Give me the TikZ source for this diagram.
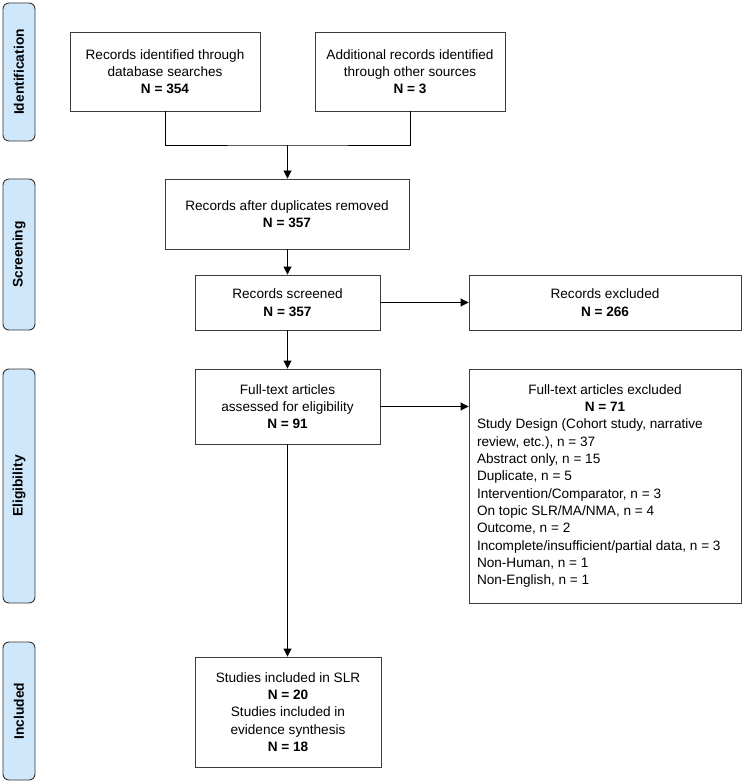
\documentclass[tikz,border=0pt]{standalone}
\usepackage{fontspec}
\setmainfont{Liberation Sans}
\usetikzlibrary{arrows.meta}
\definecolor{sidefill}{RGB}{207,231,250}
\definecolor{boxline}{RGB}{60,60,60}
\begin{document}
\begin{tikzpicture}[x=1pt,y=-1pt,
  box/.style={draw=boxline, line width=0.9pt, align=center, inner sep=0pt, font=\fontsize{13.6}{17.3}\selectfont},
  side/.style={draw=black!80, fill=sidefill, rounded corners=6pt, line width=0.9pt, inner sep=0pt, rotate=90, minimum height=32pt, font=\fontsize{13.8}{16}\selectfont\bfseries},
  conn/.style={line width=0.9pt},
  arr/.style={conn, -{Triangle[length=8pt,width=8pt]}}]
\useasboundingbox (0,0) rectangle (744,783);

% phase labels
\node[side, minimum width=138pt] (ident) at (19,72) {Identification};
\node[side, minimum width=151pt] (screen) at (19,254.5) {Screening};
\node[side, minimum width=234pt] (elig) at (19,486) {Eligibility};
\node[side, minimum width=138pt] (incl) at (19,711) {Included};

% boxes
\node[box, minimum width=190pt, minimum height=79pt] (b1) at (165,71.5)
  {Records identified through\\database searches\\\textbf{N = 354}};
\node[box, minimum width=190pt, minimum height=79pt] (b2) at (410,71.5)
  {Additional records identified\\through other sources\\\textbf{N = 3}};
\node[box, minimum width=244pt, minimum height=70pt] (b3) at (287,214)
  {Records after duplicates removed\\\textbf{N = 357}};
\node[box, minimum width=185pt, minimum height=55pt] (b4) at (287.5,302.5)
  {Records screened\\\textbf{N = 357}};
\node[box, minimum width=272pt, minimum height=55pt] (b5) at (605,302.5)
  {Records excluded\\\textbf{N = 266}};
\node[box, minimum width=185pt, minimum height=75pt] (b6) at (287.5,406.5)
  {Full-text articles\\assessed for eligibility\\\textbf{N = 91}};
\node[box, minimum width=272pt, minimum height=234pt] (b7) at (605,486)
  {\begin{minipage}{256pt}\centering Full-text articles excluded\\\textbf{N = 71}\par
   \raggedright Study Design (Cohort study, narrative\\
   review, etc.), n = 37\\
   Abstract only, n = 15\\
   Duplicate, n = 5\\
   Intervention/Comparator, n = 3\\
   On topic SLR/MA/NMA, n = 4\\
   Outcome, n = 2\\
   Incomplete/insufficient/partial data, n = 3\\
   Non-Human, n = 1\\
   Non-English, n = 1\end{minipage}};
\node[box, minimum width=186pt, minimum height=110pt] (b8) at (288,712)
  {Studies included in SLR\\\textbf{N = 20}\\Studies included in\\evidence synthesis\\\textbf{N = 18}};

% connectors
\coordinate (j) at (287.5,145);
\draw[conn] (b1.south) |- (j) -| (b2.south);
\draw[arr] (j) -- (b3.north -| j);
\draw[arr] (b3.south -| b4.north) -- (b4.north);
\draw[arr] (b4.east) -- (b5.west);
\draw[arr] (b4.south) -- (b6.north);
\draw[arr] (b6.east) -- (b6.east -| b7.west);
\draw[arr] (b6.south) -- (b6.south |- b8.north);
\end{tikzpicture}
\end{document}
